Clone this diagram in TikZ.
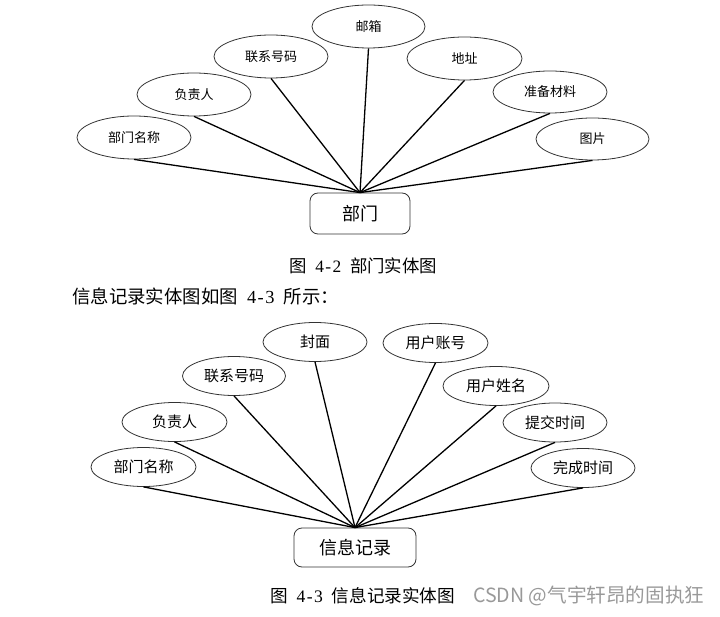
\documentclass[tikz,border=0pt]{standalone}
\usepackage{fontspec}
\setmainfont{Noto Sans CJK SC}
\newfontfamily\lat{Liberation Serif}
\newcommand\hw[1]{\makebox[0.5em]{\lat #1}}
\newcommand\hsp{\hspace{0.5em}}
\usetikzlibrary{shapes.geometric}
\tikzset{
  attr/.style={ellipse, draw=black!80, line width=0.8pt, inner sep=0pt, minimum width=#1, font=\fontsize{13}{13}\selectfont},
  attrb/.style={ellipse, draw=black!80, line width=0.8pt, inner sep=0pt, minimum width=#1, minimum height=39pt, font=\fontsize{15}{15}\selectfont},
  entity/.style={draw=black!80, line width=0.8pt, rounded corners=8pt, inner sep=0pt, font=\fontsize{18}{18}\selectfont},
  link/.style={line width=1.3pt},
  captxt/.style={inner sep=0pt}
}
\begin{document}
\begin{tikzpicture}[x=1pt,y=-1pt]
\useasboundingbox (0,0) rectangle (720,617);
% top diagram
\node[attr=114pt, minimum height=43pt] (a1) at (134,137.5) {部门名称};
\node[attr=114pt, minimum height=43pt] (a2) at (194,94.5) {负责人};
\node[attr=114pt, minimum height=43pt] (a3) at (271,56.5) {联系号码};
\node[attr=113pt, minimum height=43pt] (a4) at (368.5,26.5) {邮箱};
\node[attr=115pt, minimum height=43pt] (a5) at (464.5,58.5) {地址};
\node[attr=114pt, minimum height=42pt] (a6) at (550,92) {准备材料};
\node[attr=113pt, minimum height=42pt] (a7) at (592.5,139) {图片};
\node[entity, minimum width=100pt, minimum height=41pt] (e1) at (360,213.5) {部门};
\foreach \n in {a1,a2,a3,a4,a5,a6,a7} \draw[link] (\n.south) -- (e1.north);
\node[captxt, anchor=west, font=\fontsize{17.4}{17.4}\selectfont] (c1) at (289,266) {图\hsp\hw{4}\hw{-}\hw{2}\hsp 部门实体图};
\node[captxt, anchor=west, font=\fontsize{18.4}{18.4}\selectfont] (p1) at (72,296) {信息记录实体图如图\hsp\hw{4}\hw{-}\hw{3}\hsp 所示：};
% bottom diagram
\node[attrb=105pt] (b1) at (143.5,467) {部门名称};
\node[attrb=105pt] (b2) at (174.5,422) {负责人};
\node[attrb=103pt] (b3) at (234,376) {联系号码};
\node[attrb=104pt] (b4) at (315,342) {封面};
\node[attrb=105pt] (b5) at (435.5,343) {用户账号};
\node[attrb=106pt] (b6) at (496,386) {用户姓名};
\node[attrb=104pt] (b7) at (555,422.5) {提交时间};
\node[attrb=104pt] (b8) at (583,468) {完成时间};
\node[entity, minimum width=122pt, minimum height=39pt] (e2) at (355,547.5) {信息记录};
\foreach \n in {b1,b2,b3,b4,b5,b6,b7,b8} \draw[link] (\n.south) -- (e2.north);
\node[captxt, anchor=west, font=\fontsize{17.6}{17.6}\selectfont] (c2) at (270,596) {图\hsp\hw{4}\hw{-}\hw{3}\hsp 信息记录实体图};
\node[captxt, anchor=west, text=black!40, font=\fontsize{19.6}{19.6}\selectfont] (w) at (473,596) {CSDN @气宇轩昂的固执狂};
\end{tikzpicture}
\end{document}
